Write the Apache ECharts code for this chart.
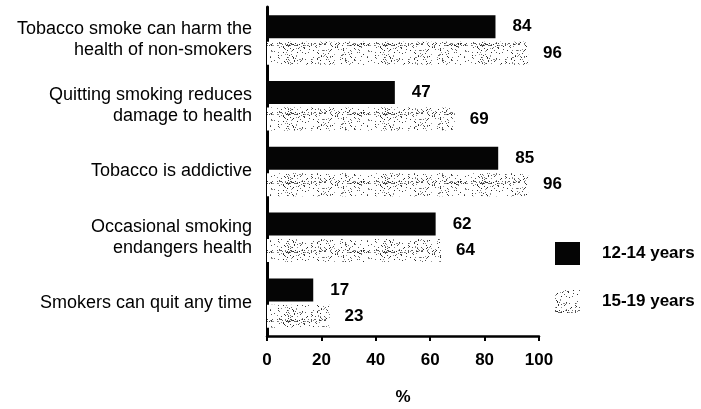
<!DOCTYPE html>
<html><head><meta charset="utf-8">
<script src="https://cdn.jsdelivr.net/npm/echarts@6/dist/echarts.min.js"></script>
<style>html,body{margin:0;padding:0;background:#fff}#c{width:701px;height:409px}</style>
</head><body><div id="c"></div>
<script>
const categories = [
  "Tobacco smoke can harm the\nhealth of non-smokers",
  "Quitting smoking reduces\ndamage to health",
  "Tobacco is addictive",
  "Occasional smoking\nendangers health",
  "Smokers can quit any time"
];
const seriesNames = ["12-14 years", "15-19 years"];
const values1214 = [84, 47, 85, 62, 17];
const values1519 = [96, 69, 96, 64, 23];
const xTicks = [0, 20, 40, 60, 80, 100];

// speckled texture for the 15-19 series (decoration only)
function makeSpeckle() {
  const cv = document.createElement('canvas');
  cv.width = 97; cv.height = 23;
  const ctx = cv.getContext('2d');
  ctx.fillStyle = '#ffffff';
  ctx.fillRect(0, 0, cv.width, cv.height);
  let s = 987654;
  function nx() { s = (s * 1103515245 + 12345) & 0x7fffffff; return s / 0x7fffffff; }
  for (let y = 0; y < cv.height; y++) {
    const dens = y > cv.height - 4 ? 0.3 : 0.09;
    for (let x = 0; x < cv.width; x++) {
      if (nx() < dens) {
        const g = Math.floor(30 + nx() * 130);
        ctx.fillStyle = 'rgb(' + g + ',' + g + ',' + g + ')';
        ctx.fillRect(x, y, 1, 1);
      }
    }
  }
  return cv;
}
const speckle = { image: makeSpeckle(), repeat: 'repeat' };
const FONT = '"Liberation Sans", Arial, sans-serif';

const chart = echarts.init(document.getElementById('c'), null, { renderer: 'canvas' });
chart.setOption({
  animation: false,
  backgroundColor: '#ffffff',
  grid: { left: 267, right: 162, top: 7, bottom: 73, containLabel: false, outerBoundsMode: 'none' },
  legend: {
    orient: 'vertical', left: 550, top: 237,
    itemWidth: 25, itemHeight: 23, itemGap: 25, icon: 'rect',
    textStyle: { fontFamily: FONT, fontSize: 17, fontWeight: 'bold', color: '#000', padding: [0, 0, 0, 17] },
    data: seriesNames
  },
  xAxis: {
    type: 'value', min: 0, max: 100, interval: 20,
    name: '%', nameLocation: 'middle', nameGap: 53,
    nameTextStyle: { fontFamily: FONT, fontSize: 17, fontWeight: 'bold', color: '#000' },
    axisLine: { show: true, lineStyle: { color: '#000', width: 2.5 } },
    axisTick: { show: true, length: 5, lineStyle: { color: '#000', width: 2 } },
    axisLabel: { fontFamily: FONT, fontSize: 17, fontWeight: 'bold', color: '#000', margin: 16,
      formatter: v => xTicks.indexOf(v) >= 0 ? String(v) : '' },
    splitLine: { show: false }
  },
  yAxis: {
    type: 'category', inverse: true, data: categories,
    axisLine: { show: true, lineStyle: { color: '#000', width: 3 } },
    axisTick: { show: false },
    axisLabel: { fontFamily: FONT, fontSize: 18, color: '#000', margin: 15,
      align: 'right', lineHeight: 21, padding: [0, 0, 6, 0] }
  },
  series: [
    {
      name: seriesNames[0], type: 'bar', data: values1214,
      barWidth: 23, barGap: '15%',
      itemStyle: { color: '#050505' },
      label: { show: true, position: 'right', distance: 17,
        fontFamily: FONT, fontSize: 17, fontWeight: 'bold', color: '#000' }
    },
    {
      name: seriesNames[1], type: 'bar', data: values1519,
      barWidth: 23, barGap: '15%',
      itemStyle: { color: speckle },
      label: { show: true, position: 'right', distance: 15,
        fontFamily: FONT, fontSize: 17, fontWeight: 'bold', color: '#000' }
    }
  ]
});
</script></body></html>
